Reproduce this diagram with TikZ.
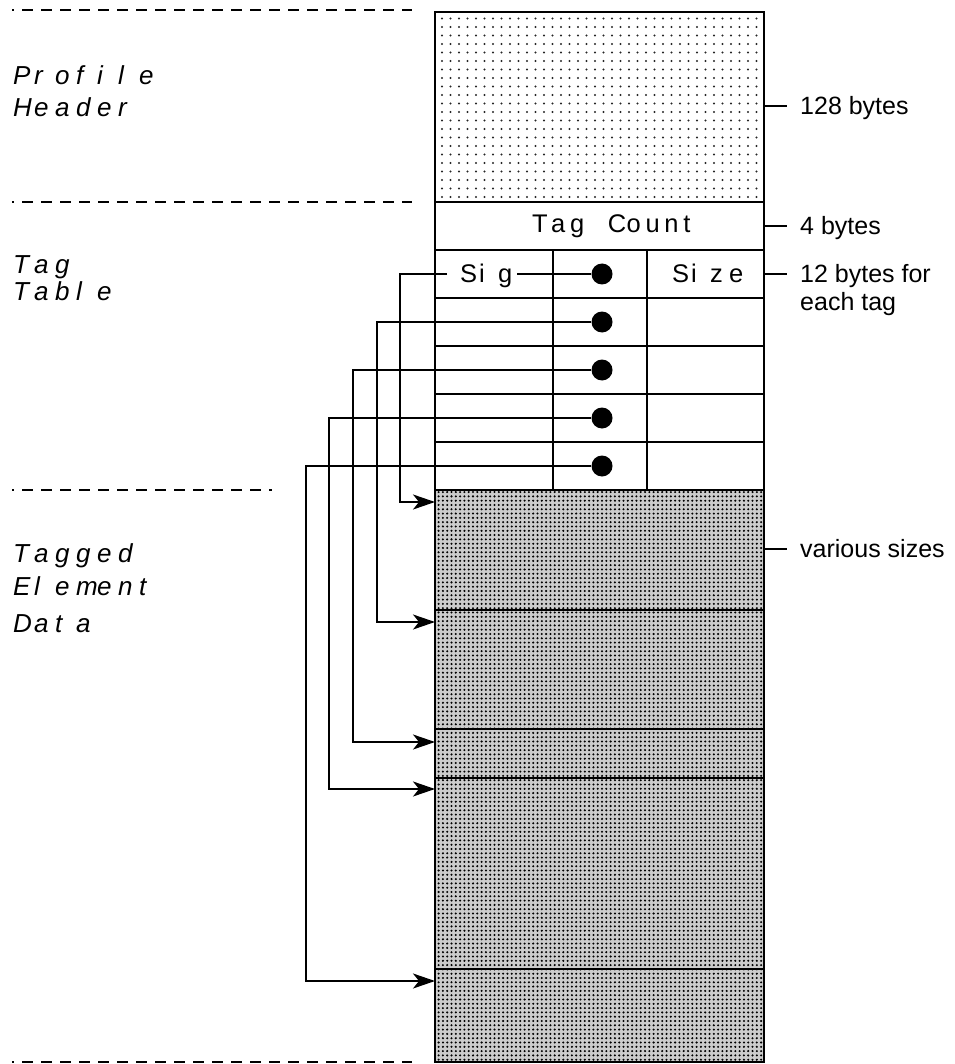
\documentclass[tikz,border=0pt]{standalone}
\usepackage{fontspec}
\setmainfont{Liberation Sans}
\usetikzlibrary{arrows.meta,patterns.meta}
\makeatletter
\newcommand\fixpitch[2][21pt]{\@tfor\fp@c:=#2\do{\makebox[#1][l]{\fp@c}}}
\makeatother
\begin{document}
\begin{tikzpicture}[x=1pt,y=-1pt,
  box/.style={line width=2.3pt},
  conn/.style={line width=1.9pt},
  arr/.style={conn,-{Stealth[length=22pt,width=15pt,inset=6pt]}},
  sep/.style={line width=1.6pt, dash pattern=on 10.5pt off 8.5pt, dash phase=9pt},
  tick/.style={line width=2.2pt},
  sidelabel/.style={anchor=base west, inner sep=0pt, align=left, font=\fontsize{25}{28}\selectfont},
  seclabel/.style={anchor=base west, inner sep=0pt, align=left, font=\fontsize{26}{30}\selectfont\itshape},
  celltext/.style={anchor=base west, inner sep=0pt, font=\fontsize{25.5}{30}\selectfont},
  ptr/.style={circle, fill=black, minimum size=21pt, inner sep=0pt},
  hdrfill/.style={pattern={Dots[radius=1.1pt,distance=8.5pt]}, pattern color=black!85},
  datafill/.style={fill=black!20, postaction={pattern={Dots[radius=1.15pt,distance=4.3pt]}, pattern color=black}},
]
\useasboundingbox (0,0) rectangle (954,1064);
% fills
\path[hdrfill] (435,12) rectangle (764,202);
\path[datafill] (435,490) rectangle (764,1062);
% section separators (dashed)
\draw[sep] (12,10) -- (412,10);
\draw[sep] (12,202) -- (412,202);
\draw[sep] (12,490) -- (272,490);
\draw[sep] (12,1062) -- (412,1062);
% section labels (base anchor = baseline of last line)
\node[seclabel] (lhdr) at (13,117) {\fixpitch{Profile}\\[2pt]\fixpitch{Header}};
\node[seclabel] (ltab) at (13,300) {\fixpitch{Tag}\\[-3pt]\fixpitch{Table}};
\node[seclabel] (ldat) at (13,632) {\fixpitch{Tagged}\\[3pt]\fixpitch{Element}\\[7pt]\fixpitch{Data}};
% table structure
\draw[box] (435,202) -- (764,202);
\draw[box] (435,250) -- (764,250);
\foreach \yy in {298,346,394,442,490} \draw[box] (435,\yy) -- (764,\yy);
\draw[box] (553,250) -- (553,490);
\draw[box] (647,250) -- (647,490);
\foreach \yy in {610,729,778,969} \draw[box] (435,\yy) -- (764,\yy);
\draw[box] (435,12) rectangle (764,1062);
% cell texts
\node[celltext] (count) at (532,233) {\fixpitch[18.9pt]{Tag}\hspace{18.9pt}\fixpitch[18.9pt]{Count}};
\node[celltext] (sig) at (460,283) {\fixpitch[19pt]{Sig}};
\node[celltext] (size) at (672,283) {\fixpitch[19pt]{Size}};
% pointers
\node[ptr] (p1) at (602,274) {};
\node[ptr] (p2) at (602,322) {};
\node[ptr] (p3) at (602,370) {};
\node[ptr] (p4) at (602,418) {};
\node[ptr] (p5) at (602,466) {};
\coordinate (b1) at (400,274);
\coordinate (b2) at (377,322);
\coordinate (b3) at (353,370);
\coordinate (b4) at (329,418);
\coordinate (b5) at (306,466);
\coordinate (t1) at (435,502);
\coordinate (t2) at (435,622);
\coordinate (t3) at (435,742);
\coordinate (t4) at (435,789);
\coordinate (t5) at (435,981);
\draw[conn] (p1.west) -- (p1.west -| sig.east);
\draw[arr] ([xshift=-13pt]p1.west -| sig.west) -- (b1) |- (t1);
\draw[arr] (p2.west) -- (b2) |- (t2);
\draw[arr] (p3.west) -- (b3) |- (t3);
\draw[arr] (p4.west) -- (b4) |- (t4);
\draw[arr] (p5.west) -- (b5) |- (t5);
% size annotations
\coordinate (m1) at (764,106);
\coordinate (m2) at (764,226);
\coordinate (m3) at (764,274);
\coordinate (m4) at (764,549);
\node[sidelabel] (s1) at (800,114.5) {128 bytes};
\node[sidelabel] (s2) at (800,234.5) {4 bytes};
\node[sidelabel] (s3) at (800,310) {12 bytes for\\each tag};
\node[sidelabel] (s4) at (800,557) {various sizes};
\draw[tick] (m1) -- ++(23,0);
\draw[tick] (m2) -- ++(23,0);
\draw[tick] (m3) -- ++(23,0);
\draw[tick] (m4) -- ++(23,0);
\end{tikzpicture}
\end{document}
